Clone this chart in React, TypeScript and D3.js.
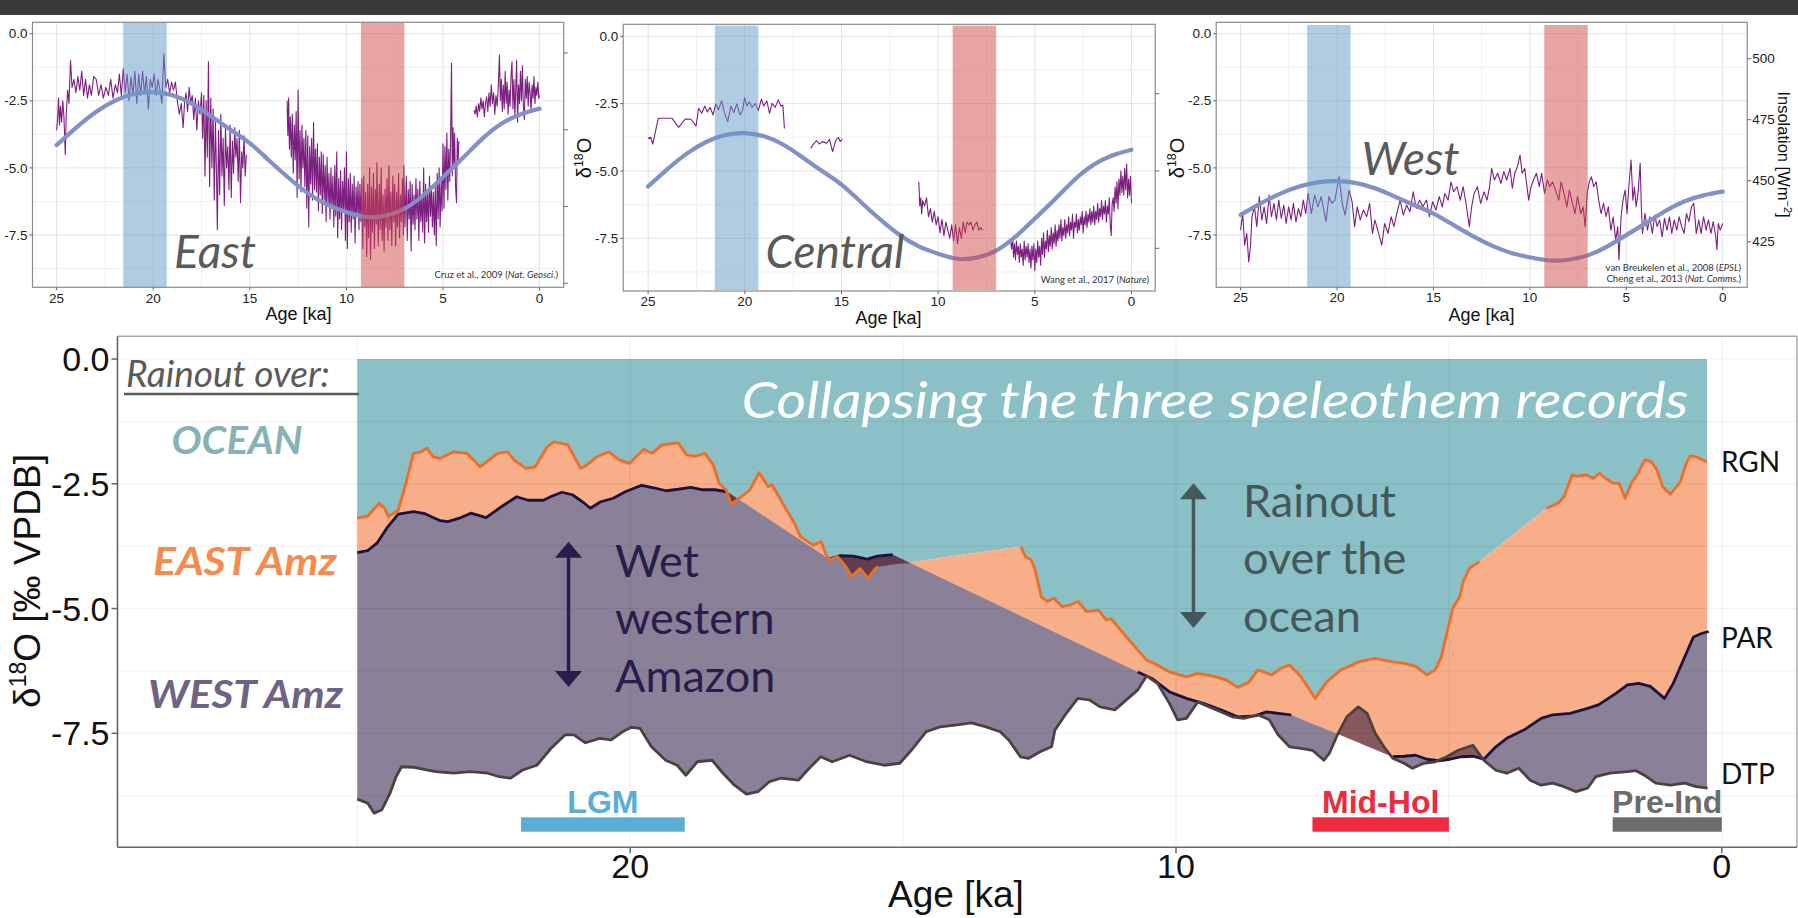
import React from "react";
import * as d3 from "d3";

type Pt = [number, number];

/* ---------------------------------------
   Top panels: speleothem d18O records (age ka, permil)
-----------------------------------------*/
const eastSeg1: Pt[] = [
  [25.0,-3.6],[24.95,-3.2],[24.9,-2.4],[24.85,-3.4],[24.8,-2.7],[24.74,-3.3],[24.68,-2.5],[24.62,-3.1],[24.55,-4.5],[24.5,-3.0],
  [24.43,-2.1],[24.36,-2.6],[24.28,-1.0],[24.2,-2.0],[24.1,-1.7],[24.0,-2.2],[23.9,-1.6],[23.8,-2.1],[23.7,-1.4],[23.6,-2.3],
  [23.5,-1.7],[23.4,-2.4],[23.3,-1.9],[23.2,-2.3],[23.08,-1.6],[22.95,-1.7],[22.82,-2.3],[22.7,-1.9],[22.58,-2.4],[22.45,-2.0],
  [22.32,-2.3],[22.2,-1.7],[22.08,-2.4],[21.96,-1.9],[21.85,-2.2],[21.75,-1.5],[21.65,-2.3],[21.55,-1.3],[21.45,-2.2],[21.35,-1.5],
  [21.25,-2.5],[21.15,-1.6],[21.05,-2.3],[20.95,-1.4],[20.85,-2.6],[20.75,-1.5],[20.65,-2.3],[20.55,-1.4],[20.45,-2.2],[20.35,-1.6],
  [20.25,-2.8],[20.15,-1.7],[20.05,-2.0],[19.95,-1.5],[19.85,-2.3],[19.75,-1.7],[19.65,-2.1],[19.55,-2.6],[19.45,-0.75],[19.35,-2.0],
  [19.25,-1.7],[19.15,-2.2],[19.05,-1.8],[18.95,-2.1],[18.85,-1.8],[18.75,-2.5],[18.65,-3.0],[18.55,-2.6],[18.45,-3.5],[18.38,-2.6],
  [18.3,-2.2],[18.22,-2.9],[18.14,-2.0],[18.06,-2.6],[17.98,-2.3],[17.9,-3.2],[17.82,-2.4],[17.74,-3.6],[17.66,-2.5],[17.58,-3.0],
  [17.5,-2.2],[17.44,-3.9],[17.38,-2.3],[17.32,-5.3],[17.26,-2.5],[17.2,-4.6],[17.14,-1.05],[17.08,-5.7],[17.02,-2.4],[16.96,-5.0],
  [16.9,-2.8],[16.84,-6.2],[16.78,-3.2],[16.72,-5.4],[16.68,-7.3],[16.62,-3.6],[16.56,-6.0],[16.5,-3.0],[16.44,-5.3],[16.38,-3.9],
  [16.32,-6.4],[16.26,-3.5],[16.2,-5.0],[16.14,-4.2],[16.08,-5.8],[16.02,-3.4],[15.96,-6.1],[15.9,-4.0],[15.84,-5.2],[15.78,-3.5],
  [15.72,-4.6],[15.66,-3.9],[15.6,-5.5],[15.54,-3.6],[15.48,-6.3],[15.42,-4.4],[15.36,-5.0],[15.3,-3.8],[15.24,-5.3],[15.18,-4.5],
];
const eastSeg2: Pt[] = [
  [13.07,-2.5],[13.03,-3.8],[12.99,-2.4],[12.95,-4.3],[12.9,-3.1],[12.85,-4.6],[12.8,-3.0],[12.75,-5.2],[12.7,-3.4],[12.65,-4.7],
  [12.6,-2.9],[12.55,-6.1],[12.5,-2.1],[12.45,-5.4],[12.4,-3.6],[12.35,-5.9],[12.3,-3.4],[12.25,-5.0],[12.2,-3.9],[12.15,-5.7],
  [12.1,-3.6],[12.05,-6.5],[12.0,-3.8],[11.95,-7.2],[11.9,-4.2],[11.85,-5.6],[11.8,-3.9],[11.75,-6.2],[11.7,-3.3],[11.65,-5.8],
  [11.6,-4.3],[11.55,-5.9],[11.5,-4.1],[11.45,-6.6],[11.4,-4.6],[11.35,-6.0],[11.3,-4.4],[11.25,-6.7],[11.2,-4.5],[11.15,-6.2],
  [11.1,-4.9],[11.05,-7.0],[11.0,-4.6],[10.95,-6.4],[10.9,-5.2],[10.85,-6.9],[10.8,-5.0],[10.75,-6.5],[10.7,-5.3],[10.65,-7.2],
  [10.6,-4.9],[10.55,-6.8],[10.5,-4.4],[10.45,-7.6],[10.4,-5.4],[10.35,-6.9],[10.3,-5.1],[10.25,-7.3],[10.2,-5.5],[10.15,-6.6],
  [10.1,-5.0],[10.05,-7.7],[10.0,-4.4],[9.95,-8.0],[9.9,-5.4],[9.85,-7.0],[9.8,-5.2],[9.75,-7.4],[9.7,-5.6],[9.65,-6.9],
  [9.6,-5.3],[9.55,-7.8],[9.5,-5.7],[9.45,-6.8],[9.4,-5.5],[9.35,-7.3],[9.3,-5.6],[9.25,-7.0],[9.2,-5.4],[9.15,-8.0],
  [9.1,-5.3],[9.05,-7.2],[9.0,-5.9],[8.95,-8.3],[8.9,-5.6],[8.85,-7.6],[8.8,-5.0],[8.75,-8.4],[8.7,-5.7],[8.65,-7.4],
  [8.6,-5.2],[8.55,-8.0],[8.5,-5.8],[8.45,-7.1],[8.42,-4.8],[8.35,-7.9],[8.3,-5.6],[8.25,-7.3],[8.2,-5.0],[8.15,-7.7],
  [8.1,-6.0],[8.05,-8.1],[8.0,-5.8],[7.95,-7.2],[7.9,-5.4],[7.85,-7.7],[7.8,-4.9],[7.75,-7.3],[7.7,-5.9],[7.65,-7.9],
  [7.6,-5.3],[7.55,-7.0],[7.5,-5.6],[7.45,-7.9],[7.4,-5.9],[7.35,-7.2],[7.3,-5.2],[7.25,-7.6],[7.2,-6.0],[7.15,-7.0],
  [7.1,-5.4],[7.05,-7.5],[7.03,-4.9],[6.97,-7.2],[6.9,-5.3],[6.85,-7.7],[6.8,-5.8],[6.75,-6.9],[6.7,-5.5],[6.65,-8.1],
  [6.6,-5.6],[6.55,-7.1],[6.5,-6.0],[6.45,-7.3],[6.4,-5.4],[6.35,-6.9],[6.3,-5.8],[6.25,-7.7],[6.2,-5.5],[6.15,-7.0],
  [6.1,-6.1],[6.05,-7.4],[6.0,-5.0],[5.95,-7.8],[5.9,-5.6],[5.85,-7.0],[5.8,-5.9],[5.75,-7.4],[5.7,-5.3],[5.65,-6.8],
  [5.6,-5.7],[5.55,-7.2],[5.5,-5.9],[5.45,-7.5],[5.4,-5.7],[5.35,-7.9],[5.3,-5.2],[5.25,-6.9],[5.2,-5.0],[5.15,-7.2],
  [5.1,-5.5],[5.05,-6.6],[5.0,-4.1],[4.95,-6.5],[4.9,-4.2],[4.85,-5.8],[4.8,-3.7],[4.75,-6.2],[4.7,-4.3],[4.65,-5.5],
  [4.6,-3.5],[4.56,-1.1],[4.52,-5.3],[4.48,-3.5],[4.44,-4.9],[4.4,-3.7],[4.35,-5.7],[4.3,-6.3],[4.26,-3.9],[4.22,-4.8],[4.18,-4.0],
];
const eastSeg3: Pt[] = [
  [3.4,-2.85],[3.34,-3.0],[3.28,-2.7],[3.22,-3.1],[3.16,-2.6],[3.1,-2.9],[3.04,-2.4],[2.98,-2.8],[2.92,-2.5],[2.86,-3.1],
  [2.8,-2.6],[2.74,-2.35],[2.68,-2.9],[2.62,-2.2],[2.56,-2.7],[2.5,-1.9],[2.44,-2.6],[2.38,-2.2],[2.32,-3.0],[2.26,-2.3],
  [2.2,-2.7],[2.14,-2.0],[2.08,-0.8],[2.03,-2.5],[1.98,-1.7],[1.93,-2.9],[1.88,-1.9],[1.83,-2.8],[1.78,-1.4],[1.73,-2.6],
  [1.68,-1.8],[1.63,-3.0],[1.58,-2.1],[1.53,-2.7],[1.48,-1.6],[1.43,-1.05],[1.38,-2.8],[1.33,-1.7],[1.28,-3.1],[1.23,-2.0],
  [1.19,-1.0],[1.14,-3.3],[1.09,-1.9],[1.04,-2.6],[0.99,-1.4],[0.94,-2.5],[0.89,-1.2],[0.84,-2.7],[0.79,-3.2],[0.74,-1.7],
  [0.69,-2.4],[0.64,-1.6],[0.59,-2.7],[0.54,-1.8],[0.49,-2.2],[0.44,-2.9],[0.39,-1.9],[0.34,-2.4],[0.29,-1.6],[0.24,-2.6],
  [0.19,-2.0],[0.14,-2.3],[0.09,-1.8],[0.04,-2.4],[0.0,-2.3],
];

const centralSeg1: Pt[] = [
  [25.0,-3.79],[24.86,-3.75],[24.76,-4.0],[24.47,-3.04],[23.77,-3.04],[23.42,-3.38],[23.08,-3.07],[22.78,-3.08],[22.52,-3.33],[22.39,-2.67],
  [22.23,-2.86],[22.07,-2.59],[21.93,-2.81],[21.79,-2.64],[21.64,-2.92],[21.5,-2.51],[21.36,-2.73],[21.2,-2.39],[21.04,-2.86],[20.88,-3.17],
  [20.72,-2.59],[20.57,-2.83],[20.41,-2.51],[20.25,-2.92],[20.11,-2.74],[20.01,-2.28],[19.89,-2.59],[19.77,-2.43],[19.62,-2.64],[19.46,-2.49],
  [19.3,-2.76],[19.14,-2.33],[19.02,-2.59],[18.86,-2.4],[18.72,-2.86],[18.59,-2.49],[18.43,-2.64],[18.27,-2.36],[18.13,-2.59],[18.03,-2.55],[17.95,-3.42],
];
const centralSeg2: Pt[] = [
  [16.59,-4.16],[16.45,-4.0],[16.29,-3.87],[16.15,-4.0],[15.99,-3.91],[15.76,-3.97],[15.62,-3.82],[15.46,-4.28],[15.3,-3.87],[15.16,-3.75],[15.06,-3.91],[14.96,-3.82],
];
const centralSeg3: Pt[] = [
  [11.0,-5.4],[10.95,-6.3],[10.9,-6.0],[10.85,-6.6],[10.8,-6.1],[10.7,-6.3],[10.6,-6.0],[10.5,-6.7],[10.4,-6.4],[10.3,-6.9],
  [10.2,-6.5],[10.1,-7.0],[10.0,-6.7],[9.9,-7.3],[9.8,-6.8],[9.7,-7.4],[9.6,-6.9],[9.5,-7.2],[9.4,-7.5],[9.3,-7.0],
  [9.2,-7.6],[9.1,-7.0],[9.0,-7.7],[8.9,-7.1],[8.8,-7.5],[8.7,-6.9],[8.6,-7.3],[8.5,-6.9],[8.4,-7.0],[8.3,-6.9],
  [8.2,-7.2],[8.1,-7.0],[8.0,-6.9],[7.9,-7.2],[7.8,-7.1],[7.7,-7.2],
];
const centralSeg4: Pt[] = [
  [6.25,-7.6],[6.2,-7.9],[6.15,-7.5],[6.1,-8.2],[6.05,-7.7],[6.0,-8.3],[5.95,-7.6],[5.9,-8.1],[5.85,-7.8],[5.8,-8.4],
  [5.75,-7.7],[5.7,-8.2],[5.65,-7.9],[5.6,-8.5],[5.55,-7.6],[5.5,-8.3],[5.45,-7.8],[5.4,-8.2],[5.35,-7.7],[5.3,-8.4],
  [5.25,-7.9],[5.2,-8.6],[5.15,-7.8],[5.1,-8.3],[5.05,-7.7],[5.0,-8.7],[4.95,-7.9],[4.9,-8.4],[4.85,-7.6],[4.8,-8.2],
  [4.75,-7.8],[4.7,-8.5],[4.65,-7.5],[4.6,-8.1],[4.55,-7.3],[4.5,-8.2],[4.45,-7.6],[4.4,-7.9],[4.35,-7.2],[4.3,-8.0],
  [4.25,-7.4],[4.2,-7.8],[4.15,-7.1],[4.1,-7.9],[4.05,-7.3],[4.0,-7.7],[3.95,-7.0],[3.9,-7.8],[3.85,-7.2],[3.8,-7.6],
  [3.75,-7.0],[3.7,-7.5],[3.65,-6.8],[3.6,-7.6],[3.55,-7.1],[3.5,-7.4],[3.45,-6.8],[3.4,-7.5],[3.35,-7.0],[3.3,-7.3],
  [3.25,-6.7],[3.2,-7.4],[3.15,-6.9],[3.1,-7.2],[3.05,-6.6],[3.0,-7.5],[2.95,-6.9],[2.9,-7.1],[2.85,-6.6],[2.8,-7.3],
  [2.75,-6.8],[2.7,-7.2],[2.65,-6.7],[2.6,-7.0],[2.55,-6.5],[2.5,-7.3],[2.45,-6.7],[2.4,-7.0],[2.35,-6.5],[2.3,-7.1],
  [2.25,-6.6],[2.2,-6.9],[2.15,-6.4],[2.1,-7.0],[2.05,-6.5],[2.0,-6.9],[1.95,-6.3],[1.9,-7.0],[1.85,-6.5],[1.8,-6.8],
  [1.75,-6.2],[1.7,-6.9],[1.65,-6.4],[1.6,-6.7],[1.55,-6.1],[1.5,-6.8],[1.45,-6.3],[1.4,-6.6],[1.35,-6.1],[1.3,-6.9],
  [1.25,-6.3],[1.2,-6.6],[1.15,-6.0],[1.1,-7.0],[1.05,-7.4],[1.0,-6.2],[0.95,-6.0],[0.9,-6.5],[0.85,-5.6],[0.8,-6.2],
  [0.75,-5.4],[0.7,-6.4],[0.65,-5.3],[0.6,-5.9],[0.55,-5.0],[0.5,-5.8],[0.45,-5.2],[0.4,-5.9],[0.35,-4.9],[0.3,-5.7],
  [0.25,-4.75],[0.2,-6.0],[0.15,-5.3],[0.1,-5.9],[0.05,-5.2],[0.0,-6.2],
];

const westSeg1: Pt[] = [
  [25.0,-7.32],[24.89,-6.7],[24.79,-7.88],[24.68,-7.44],[24.58,-8.5],[24.49,-7.94],[24.41,-6.82],[24.28,-6.45],[24.16,-7.19],[24.03,-6.07],
  [23.9,-6.94],[23.78,-6.45],[23.65,-7.07],[23.52,-6.01],[23.4,-6.82],[23.27,-6.32],[23.14,-6.94],[23.02,-6.2],[22.89,-6.88],[22.76,-6.39],
  [22.64,-7.07],[22.51,-6.45],[22.38,-6.94],[22.26,-6.32],[22.13,-7.01],[22.0,-6.51],[21.88,-6.82],[21.75,-6.2],[21.62,-6.7],[21.5,-5.95],
  [21.33,-6.7],[21.16,-6.01],[20.99,-6.45],[20.82,-6.07],[20.57,-7.0],[20.42,-6.07],[20.27,-6.32],[20.11,-6.2],[19.89,-5.33],[19.73,-6.32],
  [19.58,-6.76],[19.37,-5.83],[19.22,-6.26],[19.09,-7.19],[18.95,-6.45],[18.8,-6.94],[18.63,-6.57],[18.46,-6.82],[18.31,-6.32],[18.16,-7.44],
  [18.04,-6.94],[17.89,-7.32],[17.68,-7.88],[17.53,-7.07],[17.36,-7.44],[17.19,-6.82],[17.05,-7.19],[16.9,-6.7],[16.73,-6.2],[16.56,-6.76],
  [16.39,-6.39],[16.22,-6.63],[16.05,-5.89],[15.89,-6.51],[15.72,-6.2],[15.55,-6.45],[15.36,-6.2],[15.21,-6.82],[15.04,-6.26],[14.87,-6.57],
  [14.7,-6.07],[14.54,-6.45],[14.41,-5.95],[14.24,-6.2],[14.09,-5.52],[13.95,-5.89],[13.78,-5.7],[13.61,-6.2],[13.46,-5.7],[13.31,-6.32],
  [13.14,-7.19],[13.02,-6.45],[12.89,-5.95],[12.72,-5.7],[12.55,-6.32],[12.38,-5.89],[12.22,-6.2],[12.09,-5.7],[11.98,-5.02],[11.84,-5.45],
  [11.67,-5.2],[11.5,-5.58],[11.35,-5.14],[11.2,-5.45],[11.03,-5.02],[10.91,-5.76],[10.78,-5.2],[10.65,-4.96],[10.51,-4.52],[10.4,-5.2],
  [10.27,-5.02],[10.15,-5.7],[10.06,-6.2],[9.94,-5.7],[9.81,-5.45],[9.66,-5.2],[9.51,-5.7],[9.39,-5.2],[9.24,-5.95],[9.09,-5.45],
  [8.97,-5.7],[8.82,-5.52],[8.67,-5.83],[8.5,-6.2],[8.38,-5.52],[8.23,-5.95],[8.08,-6.45],[7.95,-5.83],[7.83,-6.2],[7.66,-6.7],
  [7.53,-6.07],[7.36,-6.7],[7.24,-6.45],[7.13,-7.19],[7.03,-5.95],[6.92,-5.52],[6.81,-5.33],[6.69,-5.7],[6.56,-5.52],[6.43,-6.2],
  [6.31,-6.7],[6.18,-6.32],[6.05,-6.82],[5.93,-6.45],[5.8,-7.32],[5.68,-6.82],[5.55,-7.69],[5.44,-7.19],[5.38,-8.43],[5.27,-6.82],
  [5.17,-6.2],[5.06,-5.83],[4.96,-6.7],[4.87,-5.7],[4.75,-4.71],[4.66,-6.2],[4.58,-5.7],[4.49,-6.45],[4.39,-5.95],[4.28,-4.83],
  [4.22,-6.45],[4.16,-7.44],[4.03,-6.7],[3.9,-7.32],[3.78,-6.82],[3.65,-7.44],[3.52,-6.76],[3.4,-7.19],[3.27,-6.94],[3.14,-7.57],
  [3.02,-6.88],[2.89,-7.32],[2.76,-6.82],[2.64,-7.44],[2.51,-6.94],[2.38,-7.32],[2.26,-6.82],[2.13,-7.19],[2.0,-7.44],[1.88,-6.7],
  [1.75,-7.0],[1.62,-6.45],[1.5,-6.32],[1.37,-7.44],[1.24,-6.94],[1.12,-7.44],[0.99,-6.82],[0.86,-7.32],[0.74,-6.94],[0.61,-7.44],
  [0.49,-7.0],[0.36,-7.57],[0.3,-8.05],[0.23,-7.07],[0.13,-7.32],[0.0,-7.07],
];

// summer insolation (W m-2)
const insolation: Pt[] = [
  [25,436],[24,440.5],[23,444.5],[22,447.5],[21,449.3],[20,449.8],[19,449],[18,446.8],[17,443.5],[16,440],
  [15,436.5],[14,432],[13,427.5],[12,423.5],[11,420.5],[10,418.6],[9,417.3],[8,417.6],[7,419.4],[6,423],
  [5,427.7],[4,432.5],[3,437.5],[2,441.5],[1,444],[0,445.5],
];

const lgmBand: [number, number] = [21.55, 19.3];
const midHolBand: [number, number] = [9.25, 7.0];
const topXTicks = [25, 20, 15, 10, 5, 0];
const topYTicks = [0, -2.5, -5, -7.5];

/* ---------------------------------------
   Main panel: collapsed records
-----------------------------------------*/
const rgnSeg1: Pt[] = [
  [25.0,-3.19],[24.81,-3.15],[24.6,-2.89],[24.5,-2.99],[24.43,-3.16],[24.25,-3.03],[24.11,-2.49],[23.97,-1.89],[23.83,-1.86],[23.72,-1.79],
  [23.61,-1.96],[23.48,-1.99],[23.23,-1.86],[22.99,-1.89],[22.75,-2.16],[22.43,-1.89],[22.25,-1.86],[22.12,-2.03],[21.91,-2.19],[21.74,-2.16],
  [21.52,-1.76],[21.4,-1.66],[21.14,-1.72],[20.91,-2.19],[20.84,-2.16],[20.61,-1.96],[20.39,-1.86],[20.2,-2.02],[20.01,-2.09],[19.75,-1.81],
  [19.6,-1.89],[19.42,-1.72],[19.12,-1.68],[18.97,-1.92],[18.82,-1.95],[18.63,-1.89],[18.48,-2.12],[18.37,-2.49],[18.24,-2.63],[18.15,-2.91],
  [18.0,-2.79],[17.81,-2.63],[17.64,-2.28],[17.47,-2.56],[17.4,-2.52],[17.17,-2.96],[17.02,-3.23],[16.88,-3.56],[16.65,-3.73],[16.5,-3.66],
  [16.42,-3.9],[16.35,-4.03],[16.2,-3.96],[16.05,-4.16],[15.94,-4.36],[15.79,-4.2],[15.64,-4.39],[15.53,-4.23],[15.46,-4.16],
];
const rgnSeg2: Pt[] = [
  [12.84,-3.76],[12.76,-3.96],[12.65,-4.03],[12.58,-4.23],[12.47,-4.76],[12.35,-4.86],[12.24,-4.79],[12.09,-4.96],[11.94,-4.93],[11.79,-4.86],
  [11.64,-5.06],[11.42,-5.03],[11.28,-5.23],[11.19,-5.2],[11.07,-5.36],[10.75,-5.77],[10.54,-6.03],[10.34,-6.13],[10.12,-6.27],[9.81,-6.37],
  [9.6,-6.3],[9.34,-6.35],[9.08,-6.43],[8.87,-6.58],[8.66,-6.47],[8.5,-6.23],[8.24,-6.33],[8.08,-6.2],[7.92,-6.13],[7.71,-6.36],
  [7.45,-6.8],[7.24,-6.47],[6.98,-6.23],[6.66,-6.07],[6.35,-6.0],[6.03,-6.07],[5.82,-6.1],[5.61,-6.16],[5.4,-6.33],[5.25,-6.23],
  [5.14,-5.97],[5.04,-5.5],[4.93,-5.0],[4.8,-4.76],[4.73,-4.43],[4.62,-4.19],[4.44,-4.06],
];
const rgnSeg3: Pt[] = [
  [3.21,-2.99],[3.0,-2.89],[2.89,-2.76],[2.74,-2.32],[2.64,-2.35],[2.49,-2.32],[2.35,-2.39],[2.24,-2.29],[2.13,-2.39],[1.99,-2.49],
  [1.88,-2.49],[1.77,-2.79],[1.66,-2.49],[1.55,-2.32],[1.41,-2.02],[1.3,-2.05],[1.19,-2.22],[1.08,-2.56],[0.94,-2.71],[0.76,-2.46],
  [0.65,-2.09],[0.58,-1.94],[0.47,-1.96],[0.36,-2.02],[0.27,-2.06],
];
const parSeg1: Pt[] = [
  [25.0,-3.88],[24.81,-3.84],[24.64,-3.69],[24.46,-3.39],[24.25,-3.11],[23.97,-3.06],[23.76,-3.1],[23.48,-3.24],[23.34,-3.26],[23.13,-3.19],
  [22.92,-3.09],[22.64,-3.18],[22.36,-2.96],[22.08,-2.76],[21.87,-2.83],[21.59,-2.83],[21.44,-2.75],[21.25,-2.67],[21.06,-2.72],[20.84,-2.89],
  [20.73,-2.99],[20.54,-2.86],[20.31,-2.79],[20.09,-2.66],[19.79,-2.53],[19.57,-2.58],[19.34,-2.64],[19.12,-2.61],[18.89,-2.57],[18.67,-2.62],
  [18.45,-2.62],[18.22,-2.66],
];
const parSeg2: Pt[] = [
  [16.35,-4.01],[16.15,-3.94],[15.91,-3.95],[15.66,-4.01],[15.47,-3.95],[15.19,-3.92],
];
const parSeg3: Pt[] = [
  [10.7,-6.27],[10.44,-6.4],[10.12,-6.67],[9.81,-6.8],[9.5,-6.9],[9.18,-7.03],[8.87,-7.17],[8.55,-7.15],[8.34,-7.07],[8.13,-7.1],[7.89,-7.13],
];
const parSeg4: Pt[] = [
  [6.03,-7.97],[5.82,-7.96],[5.61,-7.94],[5.4,-8.02],[5.19,-8.05],[4.98,-8.02],[4.77,-7.97],[4.56,-7.96],[4.36,-8.02],[4.14,-7.77],
  [3.94,-7.6],[3.62,-7.43],[3.31,-7.2],[3.1,-7.13],[2.78,-7.1],[2.46,-7.0],[2.26,-6.93],[1.94,-6.7],[1.73,-6.53],[1.52,-6.5],
  [1.31,-6.56],[1.05,-6.8],[0.89,-6.5],[0.68,-5.97],[0.52,-5.57],[0.37,-5.5],[0.24,-5.46],
];
const dtpSeg: Pt[] = [
  [25.0,-8.82],[24.81,-8.9],[24.69,-9.1],[24.55,-9.03],[24.4,-8.7],[24.29,-8.37],[24.19,-8.17],[23.98,-8.18],[23.71,-8.24],[23.56,-8.27],
  [23.24,-8.3],[22.93,-8.27],[22.61,-8.3],[22.4,-8.37],[22.19,-8.4],[21.98,-8.24],[21.71,-8.14],[21.45,-7.8],[21.19,-7.53],[21.03,-7.53],
  [20.82,-7.69],[20.56,-7.6],[20.35,-7.63],[20.14,-7.47],[19.98,-7.38],[19.82,-7.4],[19.61,-7.77],[19.35,-8.04],[19.14,-8.14],[18.98,-8.34],
  [18.77,-8.07],[18.5,-8.04],[18.3,-8.3],[18.09,-8.54],[17.87,-8.72],[17.66,-8.67],[17.45,-8.47],[17.24,-8.4],[16.92,-8.44],[16.72,-8.2],
  [16.51,-7.97],[16.3,-8.07],[15.98,-7.94],[15.67,-8.07],[15.35,-8.14],[15.06,-8.1],[14.85,-7.84],[14.58,-7.47],[14.32,-7.37],[14.01,-7.33],
  [13.75,-7.29],[13.48,-7.37],[13.22,-7.47],[13.06,-7.64],[12.85,-7.97],[12.7,-8.0],[12.49,-7.87],[12.28,-7.77],[12.22,-7.44],[12.01,-7.1],
  [11.8,-6.8],[11.59,-6.83],[11.39,-6.97],[11.12,-7.03],[10.91,-6.83],[10.7,-6.63],[10.54,-6.35],[10.34,-6.5],[10.12,-6.9],[9.97,-7.23],
  [9.81,-7.2],[9.6,-6.87],[9.39,-6.97],[9.18,-7.07],[8.97,-7.17],[8.76,-7.2],[8.5,-7.13],[8.29,-7.23],[8.13,-7.53],[7.92,-7.77],
  [7.71,-7.8],[7.5,-7.84],[7.29,-8.04],[7.19,-7.9],[7.03,-7.5],[6.87,-7.17],[6.66,-6.97],[6.5,-7.1],[6.35,-7.5],[6.19,-7.77],
  [6.03,-8.0],[5.82,-8.1],[5.67,-8.2],[5.46,-8.1],[5.25,-8.07],[5.04,-7.97],[4.83,-7.84],[4.56,-7.74],[4.36,-8.04],[4.14,-8.24],
  [3.94,-8.3],[3.72,-8.2],[3.51,-8.44],[3.31,-8.54],[3.1,-8.5],[2.89,-8.57],[2.67,-8.67],[2.46,-8.6],[2.31,-8.37],[2.05,-8.3],
  [1.73,-8.27],[1.57,-8.25],[1.42,-8.34],[1.21,-8.5],[0.94,-8.54],[0.68,-8.5],[0.47,-8.57],[0.26,-8.6],
];
const mainYTicks = [0, -2.5, -5, -7.5];
const mainXTicks = [20, 10, 0];
const periods = [
  { label: "LGM", from: 22.0, to: 19.0, color: "#5aaed5" },
  { label: "Mid-Hol", from: 7.5, to: 5.0, color: "#ee2b3d" },
  { label: "Pre-Ind", from: 2.0, to: 0.0, color: "#6b6d6d" },
];

const ARIAL = "'Liberation Sans', Arial, sans-serif";
const CAL = "Lato, 'Open Sans', sans-serif";

function interpFn(pts: Pt[]) {
  const s = pts.slice().sort((a, b) => a[0] - b[0]);
  const bis = d3.bisector((d: Pt) => d[0]).left;
  return (a: number) => {
    const i = bis(s, a);
    if (i <= 0) return s[0][1];
    if (i >= s.length) return s[s.length - 1][1];
    const p0 = s[i - 1];
    const p1 = s[i];
    return p0[1] + ((p1[1] - p0[1]) * (a - p0[0])) / (p1[0] - p0[0]);
  };
}

/* ---------------------------------------
   One of the three small panels
-----------------------------------------*/
function TopPanel({ p }: { p: any }) {
  const x = d3.scaleLinear().domain([25, 0]).range([p.x25, p.x0]);
  const y = d3.scaleLinear().domain([0, -7.5]).range([p.y0, p.y75]);
  const yi = d3.scaleLinear().domain(p.insDomain).range(p.insRange);
  const line = d3.line<Pt>().x((d) => x(d[0])).y((d) => y(d[1]));
  const insLine = d3
    .line<Pt>()
    .x((d) => x(d[0]))
    .y((d) => yi(d[1]))
    .curve(d3.curveNatural);
  const xGrid = d3.range(0, 25.01, 2.5);
  const yGrid = d3.range(0, -9.4, -1.25);

  return (
    <g>
      <rect x={p.left} y={p.top} width={p.right - p.left} height={p.bottom - p.top} fill="#fff" />
      {xGrid.map((g) => (
        <line key={"gx" + g} x1={x(g)} x2={x(g)} y1={p.top} y2={p.bottom}
          stroke={g % 5 === 0 ? "#e3e3e3" : "#f0f0f0"} strokeWidth={1} />
      ))}
      {yGrid.map((g) => (
        <line key={"gy" + g} x1={p.left} x2={p.right} y1={y(g)} y2={y(g)}
          stroke={g % 2.5 === 0 ? "#e3e3e3" : "#f0f0f0"} strokeWidth={1} />
      ))}
      {p.segs.map((s: Pt[], i: number) => (
        <path key={"s" + i} d={line(s) || ""} fill="none" stroke="#7d1f80" strokeWidth={1.1} strokeLinejoin="round" />
      ))}
      <path d={insLine(insolation) || ""} fill="none" stroke="#8290c8" strokeWidth={4.2} strokeLinecap="round" />
      {[lgmBand, midHolBand].map((b, i) => (
        <rect key={"b" + i} x={x(b[0])} width={x(b[1]) - x(b[0])} y={p.bandTop} height={p.bandBottom - p.bandTop}
          fill={i === 0 ? "rgb(97,153,199)" : "rgb(209,71,71)"} opacity={0.5} />
      ))}
      <rect x={p.left} y={p.top} width={p.right - p.left} height={p.bottom - p.top} fill="none" stroke="#8a8a8a" strokeWidth={1.2} />
      {topYTicks.map((t) => (
        <g key={"yt" + t}>
          <line x1={p.left - 3} x2={p.left} y1={y(t)} y2={y(t)} stroke="#666" />
          <text x={p.left - 5} y={y(t) + 4.6} textAnchor="end" fontFamily={ARIAL} fontSize={13.5} fill="#222">
            {t.toFixed(1)}
          </text>
        </g>
      ))}
      {topXTicks.map((t) => (
        <g key={"xt" + t}>
          <line x1={x(t)} x2={x(t)} y1={p.bottom} y2={p.bottom + 3} stroke="#666" />
          <text x={x(t)} y={p.tickY} textAnchor="middle" fontFamily={ARIAL} fontSize={13.5} fill="#222">
            {t}
          </text>
        </g>
      ))}
      {p.insTicks.map((t: number) => (
        <g key={"it" + t}>
          <line x1={p.right} x2={p.right + 4} y1={yi(t)} y2={yi(t)} stroke="#666" />
          {p.insLabels && (
            <text x={p.right + 5} y={yi(t) + 4.6} fontFamily={ARIAL} fontSize={13.5} fill="#222">
              {t}
            </text>
          )}
        </g>
      ))}
      <text x={p.ageX} y={p.ageY} textAnchor="middle" fontFamily={ARIAL} fontSize={18} fill="#111">
        Age [ka]
      </text>
      <text x={p.labelX} y={p.labelY} fontFamily={CAL} fontStyle="italic" fontSize={46} fill="#5a5a5a">
        {p.label}
      </text>
      {p.cites.map((c: any, i: number) => (
        <text key={"c" + i} x={p.citeX} y={c.y} textAnchor="end" fontFamily={CAL} fontSize={9.5} fill="#333">
          {c.a}
          <tspan fontStyle="italic">{c.j}</tspan>
          {")"}
        </text>
      ))}
    </g>
  );
}

const panels = [
  {
    left: 32.5, right: 563.7, top: 22.3, bottom: 287.3, x25: 56.6, x0: 539.6, y0: 33.7, y75: 235,
    insDomain: [400, 460], insRange: [283.3, 53], insTicks: [400, 420, 440, 460], insLabels: false,
    bandTop: 22.3, bandBottom: 287.3, segs: [eastSeg1, eastSeg2, eastSeg3],
    tickY: 302.5, ageX: 298.5, ageY: 320, label: "East", labelX: 174, labelY: 268,
    citeX: 558, cites: [{ y: 277.5, a: "Cruz et al., 2009 (", j: "Nat. Geosci." }],
  },
  {
    left: 623.2, right: 1155.2, top: 24.3, bottom: 291, x25: 648.1, x0: 1131.5, y0: 36.3, y75: 238.3,
    insDomain: [420, 460], insRange: [248.3, 93.7], insTicks: [420, 440, 460], insLabels: false,
    bandTop: 25.7, bandBottom: 290, segs: [centralSeg1, centralSeg2, centralSeg3, centralSeg4],
    tickY: 306, ageX: 888.5, ageY: 324, label: "Central", labelX: 765.6, labelY: 268.3,
    citeX: 1149, cites: [{ y: 283.3, a: "Wang et al., 2017 (", j: "Nature" }],
  },
  {
    left: 1216.2, right: 1747.2, top: 22.3, bottom: 287.3, x25: 1240.6, x0: 1722.7, y0: 33.7, y75: 235,
    insDomain: [425, 500], insRange: [241.7, 58.7], insTicks: [425, 450, 475, 500], insLabels: true,
    bandTop: 25, bandBottom: 287, segs: [westSeg1],
    tickY: 302, ageX: 1481.5, ageY: 320.7, label: "West", labelX: 1361.4, labelY: 175,
    citeX: 1741,
    cites: [
      { y: 270.7, a: "van Breukelen et al., 2008 (", j: "EPSL" },
      { y: 281.7, a: "Cheng et al., 2013 (", j: "Nat. Comms." },
    ],
  },
];

function Delta({ x, y, size, rot }: { x: number; y: number; size: number; rot: number }) {
  return (
    <text transform={`translate(${x},${y}) rotate(${rot})`} textAnchor="middle" fontFamily={ARIAL} fontSize={size} fill="#111">
      δ<tspan fontSize={size * 0.62} dy={-size * 0.38}>18</tspan>
      <tspan dy={size * 0.38}>O</tspan>
    </text>
  );
}

/* ---------------------------------------
   Main collapsed panel
-----------------------------------------*/
function MainPanel() {
  const box = { left: 117.5, top: 336.3, right: 1797, bottom: 847.3 };
  const x = d3.scaleLinear().domain([20, 0]).range([630.2, 1721.8]);
  const y = d3.scaleLinear().domain([0, -7.5]).range([359, 733.3]);

  const rgnAll = [...rgnSeg1, ...rgnSeg2, ...rgnSeg3];
  const parAll = [...parSeg1, ...parSeg2, ...parSeg3, ...parSeg4];
  const rgn = interpFn(rgnAll);
  const par = interpFn(parAll);
  const dtp = interpFn(dtpSeg);
  const endAge = d3.min(rgnAll, (d) => d[0]) as number;
  const ages = Array.from(new Set([...rgnAll, ...parAll, ...dtpSeg].map((d) => d[0]).concat([25, endAge])))
    .filter((a) => a <= 25 && a >= endAge)
    .sort((a, b) => b - a);

  const area = d3.area<number>().x((a) => x(a));
  const tealD = area.y0(y(0)).y1((a) => y(rgn(a)))(ages) || "";
  const orangeD = d3.area<number>().x((a) => x(a)).y0((a) => y(rgn(a))).y1((a) => y(par(a)))(ages) || "";
  const purpleD = d3.area<number>().x((a) => x(a)).y0((a) => y(par(a))).y1((a) => y(dtp(a)))(ages) || "";
  const darkD = d3.area<number>().x((a) => x(a)).y0((a) => y(par(a))).y1((a) => y(Math.min(rgn(a), par(a))))(ages) || "";

  const line = d3.line<Pt>().x((d) => x(d[0])).y((d) => y(d[1]));
  const vGrid = [25, 20, 15, 10, 5, 0];
  const hGrid = d3.range(0, -9.9, -1.25);

  const arrow = (age: number, v0: number, v1: number, color: string, key: string) => {
    const ax = x(age);
    const t = y(v0);
    const b = y(v1);
    const hw = 13.5;
    const hh = 16;
    return (
      <g key={key}>
        <line x1={ax} x2={ax} y1={t + hh - 2} y2={b - hh + 2} stroke={color} strokeWidth={3.5} />
        <polygon points={`${ax},${t} ${ax - hw},${t + hh} ${ax + hw},${t + hh}`} fill={color} />
        <polygon points={`${ax},${b} ${ax - hw},${b - hh} ${ax + hw},${b - hh}`} fill={color} />
      </g>
    );
  };

  return (
    <g>
      <rect x={box.left} y={box.top} width={box.right - box.left} height={box.bottom - box.top} fill="#fff" />
      <path d={tealD} fill="#8bc0c7" />
      <path d={orangeD} fill="#f7ae89" />
      <path d={purpleD} fill="rgb(21,3,51)" fillOpacity={0.5} />
      <path d={darkD} fill="rgb(21,3,51)" fillOpacity={0.32} />
      {vGrid.map((g) => (
        <line key={"v" + g} x1={x(g)} x2={x(g)} y1={box.top} y2={box.bottom} stroke="rgb(0,0,0)" strokeOpacity={0.07} />
      ))}
      {hGrid.map((g) => (
        <line key={"h" + g} x1={box.left} x2={box.right} y1={y(g)} y2={y(g)} stroke="rgb(0,0,0)" strokeOpacity={0.06} />
      ))}
      {[parSeg1, parSeg2, parSeg3, parSeg4].map((s, i) => (
        <path key={"p" + i} d={line(s) || ""} fill="none" stroke="#1e1140" strokeWidth={2.8} strokeLinejoin="round" />
      ))}
      <path d={line(dtpSeg) || ""} fill="none" stroke="#4b423f" strokeWidth={2.8} strokeLinejoin="round" />
      {[rgnSeg1, rgnSeg2, rgnSeg3].map((s, i) => (
        <path key={"r" + i} d={line(s) || ""} fill="none" stroke="#ee6e25" strokeWidth={2.8} strokeLinejoin="round" />
      ))}

      {/* frame and axes */}
      <line x1={box.left} x2={box.right} y1={box.top} y2={box.top} stroke="#a8a8a8" strokeWidth={1.5} />
      <line x1={box.right} x2={box.right} y1={box.top} y2={box.bottom} stroke="#a8a8a8" strokeWidth={1.5} />
      <line x1={box.left} x2={box.left} y1={box.top} y2={box.bottom} stroke="#666" strokeWidth={1.6} />
      <line x1={box.left} x2={box.right} y1={box.bottom} y2={box.bottom} stroke="#666" strokeWidth={1.6} />
      {mainYTicks.map((t) => (
        <g key={"my" + t}>
          <line x1={box.left - 6} x2={box.left} y1={y(t)} y2={y(t)} stroke="#666" strokeWidth={1.5} />
          <text x={box.left - 8} y={y(t) + 12} textAnchor="end" fontFamily={ARIAL} fontSize={34} fill="#111">
            {t.toFixed(1)}
          </text>
        </g>
      ))}
      {mainXTicks.map((t) => (
        <g key={"mx" + t}>
          <line x1={x(t)} x2={x(t)} y1={box.bottom} y2={box.bottom + 6} stroke="#666" strokeWidth={1.5} />
          <text x={x(t)} y={878} textAnchor="middle" fontFamily={ARIAL} fontSize={34} fill="#111">
            {t}
          </text>
        </g>
      ))}
      <text x={956} y={907} textAnchor="middle" fontFamily={ARIAL} fontSize={37} fill="#111">
        Age [ka]
      </text>
      <text transform="translate(40,581) rotate(-90)" textAnchor="middle" fontFamily={ARIAL} fontSize={37} fill="#111">
        δ<tspan fontSize={23} dy={-14}>18</tspan>
        <tspan dy={14}>O [‰ VPDB]</tspan>
      </text>

      {/* left legend */}
      <text x={126} y={386.7} fontFamily={CAL} fontStyle="italic" fontSize={37} fill="#5a5a5a">
        Rainout over:
      </text>
      <line x1={124} x2={359} y1={394} y2={394} stroke="#5a5a5a" strokeWidth={2.6} />
      <text x={171.5} y={454} fontFamily={CAL} fontStyle="italic" fontWeight={700} fontSize={39} fill="#86b2b5"
        textLength={131} lengthAdjust="spacingAndGlyphs">OCEAN</text>
      <text x={153} y={575} fontFamily={CAL} fontStyle="italic" fontWeight={700} fontSize={38} fill="#f58b4c"
        textLength={184} lengthAdjust="spacingAndGlyphs">EAST Amz</text>
      <text x={148} y={708.3} fontFamily={CAL} fontStyle="italic" fontWeight={700} fontSize={38} fill="#6e6285"
        textLength={195} lengthAdjust="spacingAndGlyphs">WEST Amz</text>

      <text x={741.6} y={418.3} fontFamily={CAL} fontStyle="italic" fontSize={50} fill="#ffffff"
        textLength={947} lengthAdjust="spacingAndGlyphs">Collapsing the three speleothem records</text>

      {arrow(21.13, -3.66, -6.57, "#2a1c4b", "a1")}
      {["Wet", "western", "Amazon"].map((s, i) => (
        <text key={s} x={615} y={576.7 + i * 57.5} fontFamily={CAL} fontSize={45} fill="#2a1c4b">{s}</text>
      ))}
      {arrow(9.68, -2.49, -5.39, "#44585a", "a2")}
      {["Rainout", "over the", "ocean"].map((s, i) => (
        <text key={s} x={1243} y={516.7 + i * 57.5} fontFamily={CAL} fontSize={45} fill="#44585a">{s}</text>
      ))}

      <text x={1721} y={471.7} fontFamily={CAL} fontSize={28} fill="#111">RGN</text>
      <text x={1721} y={648.3} fontFamily={CAL} fontSize={28} fill="#111">PAR</text>
      <text x={1721} y={784.3} fontFamily={CAL} fontSize={28} fill="#111">DTP</text>

      {periods.map((p) => (
        <g key={p.label}>
          <rect x={x(p.from)} width={x(p.to) - x(p.from)} y={817.3} height={14.4} fill={p.color} />
          <text x={(x(p.from) + x(p.to)) / 2} y={813.3} textAnchor="middle" fontFamily={ARIAL} fontWeight={700}
            fontSize={32} fill={p.color}>{p.label}</text>
        </g>
      ))}
    </g>
  );
}

export default function App() {
  return (
    <svg width={1798} height={918} style={{ position: "absolute", left: 0, top: 0, background: "#fff" }}>
      <rect x={0} y={0} width={1798} height={918} fill="#fff" />
      <rect x={0} y={0} width={1798} height={15} fill="#3b3a38" />
      {panels.map((p, i) => (
        <TopPanel key={i} p={p} />
      ))}
      <Delta x={591} y={158} size={20} rot={-90} />
      <Delta x={1184} y={158} size={20} rot={-90} />
      <text transform="translate(1778,154.5) rotate(90)" textAnchor="middle" fontFamily={ARIAL} fontSize={16.5} fill="#111">
        Insolation [Wm<tspan fontSize={11} dy={-6}>−2</tspan>
        <tspan dy={6}>]</tspan>
      </text>
      <MainPanel />
    </svg>
  );
}
